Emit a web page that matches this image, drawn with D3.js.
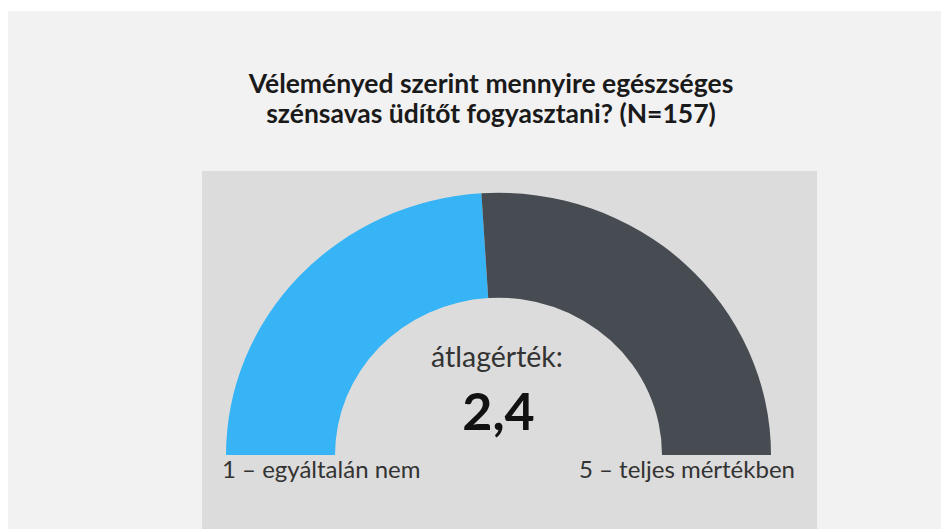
<!DOCTYPE html>
<html>
<head>
<meta charset="utf-8">
<script src="https://cdn.jsdelivr.net/npm/d3@7"></script>
<style>
  html, body { margin: 0; padding: 0; background: #ffffff; }
  svg { display: block; }
</style>
</head>
<body>
<svg id="chart" width="941" height="529"></svg>
<script>
// ---- data ----
const titleLines = ["Véleményed szerint mennyire egészséges", "szénsavas üdítőt fogyasztani? (N=157)"];
const scaleDomain = [0, 5];
const meanValue = [2.4];
const meanLabel = ["átlagérték:"];
const endLabels = ["1 – egyáltalán nem", "5 – teljes mértékben"];
const segmentColors = ["#36b4f6", "#474c52"];

// ---- layout ----
const W = 941, H = 529;
const svg = d3.select("#chart");
const fontFam = "Lato, 'Open Sans', sans-serif";

svg.append("rect").attr("x", 0).attr("y", 0).attr("width", W).attr("height", H).attr("fill", "#ffffff");
svg.append("rect").attr("x", 8).attr("y", 11).attr("width", W - 8).attr("height", H - 11).attr("fill", "#f2f2f2");
svg.append("rect").attr("x", 202).attr("y", 171).attr("width", 615).attr("height", H - 171).attr("fill", "#dcdcdc");

// title
const title = svg.append("text")
  .attr("text-anchor", "middle")
  .attr("font-family", fontFam)
  .attr("font-weight", "bold")
  .attr("font-size", 26.5)
  .attr("fill", "#1a1a1a");
titleLines.forEach((t, i) => {
  title.append("tspan").attr("x", 491).attr("y", 93 + i * 30).text(t);
});

// gauge
const cx = 498.5, cy = 455;
const outerR = 272.5, innerR = 163.5, yScale = 0.962;
const angle = d3.scaleLinear().domain(scaleDomain).range([-Math.PI / 2, Math.PI / 2]);
const arc = d3.arc().innerRadius(innerR).outerRadius(outerR);

const segments = [
  { start: scaleDomain[0], end: meanValue[0], color: segmentColors[0] },
  { start: meanValue[0], end: scaleDomain[1], color: segmentColors[1] }
];

const g = svg.append("g").attr("transform", `translate(${cx},${cy}) scale(1,${yScale})`);
g.selectAll("path.seg")
  .data(segments)
  .join("path")
  .attr("class", "seg")
  .attr("d", d => arc({ startAngle: angle(d.start), endAngle: angle(d.end) }))
  .attr("fill", d => d.color);

// center texts
svg.append("text")
  .attr("x", 497).attr("y", 367)
  .attr("text-anchor", "middle")
  .attr("font-family", fontFam)
  .attr("font-size", 28.5)
  .attr("fill", "#333333")
  .text(meanLabel[0]);

svg.append("text")
  .attr("x", cx).attr("y", 430)
  .attr("text-anchor", "middle")
  .attr("font-family", fontFam)
  .attr("font-weight", "bold")
  .attr("font-size", 52)
  .attr("fill", "#111111")
  .text(d3.format(".1f")(meanValue[0]).replace(".", ","));

// end labels
svg.append("text")
  .attr("x", 222).attr("y", 478)
  .attr("text-anchor", "start")
  .attr("font-family", fontFam)
  .attr("font-size", 24)
  .attr("fill", "#333333")
  .text(endLabels[0]);

svg.append("text")
  .attr("x", 795).attr("y", 478)
  .attr("text-anchor", "end")
  .attr("font-family", fontFam)
  .attr("font-size", 24)
  .attr("fill", "#333333")
  .text(endLabels[1]);
</script>
</body>
</html>
